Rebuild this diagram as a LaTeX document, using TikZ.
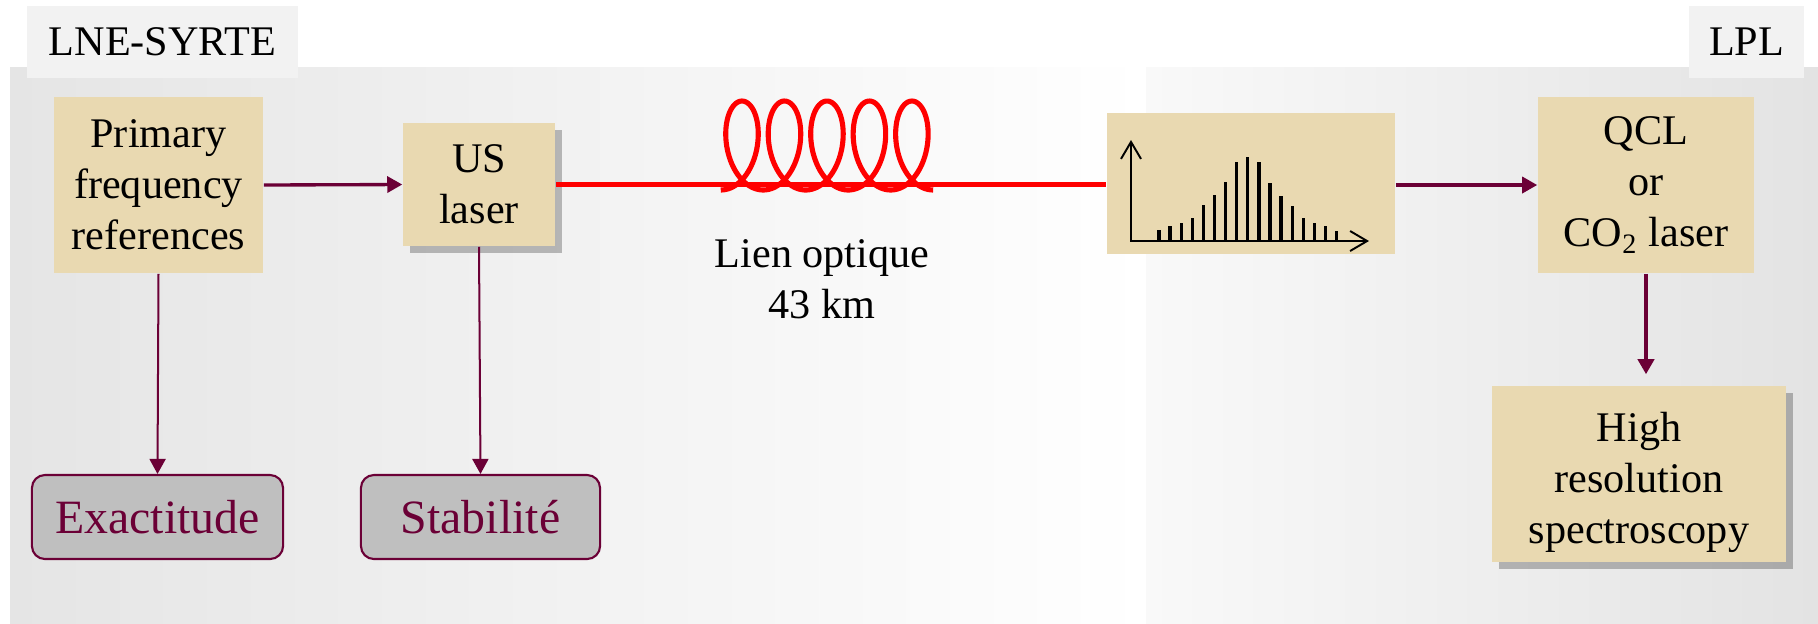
\documentclass[tikz,border=0pt]{standalone}
\usepackage{fontspec}
\setmainfont{Liberation Serif}
\usetikzlibrary{arrows.meta,shadows}
\definecolor{wheat}{RGB}{233,217,177}
\definecolor{darkwine}{RGB}{107,0,54}
\definecolor{tagfill}{RGB}{242,242,242}
\definecolor{boxgray}{RGB}{191,191,191}
\definecolor{bgleft}{RGB}{229,229,229}
\definecolor{bgmid}{RGB}{249,249,249}
\definecolor{bgright}{RGB}{227,227,227}
\tikzset{
  linkarrow/.style={-{Triangle[length=1.5mm, width=1.6mm]}, line width=0.95pt, draw=darkwine},
  fiber/.style={draw=red, line width=1.35pt},
  tagbox/.style={fill=tagfill, inner sep=0pt, font=\fontsize{12}{14.5}\selectfont},
  labbox/.style={fill=wheat, inner sep=0pt, align=center, font=\fontsize{12}{14.5}\selectfont},
  shadowed/.style={drop shadow={shadow xshift=0.7mm, shadow yshift=-0.7mm, fill=black, opacity=0.25}},
  outbox/.style={draw=darkwine, line width=0.6pt, fill=boxgray, rounded corners=1.3mm, inner sep=0pt, text=darkwine, font=\fontsize{13.6}{16}\selectfont, minimum height=0.84cm}
}
\begin{document}
\begin{tikzpicture}[x=0.01cm, y=-0.01cm]
  \useasboundingbox (0,0) rectangle (1818,623);
  % the two labs
  \shade[left color=bgleft, right color=white] (10,67) rectangle (1146,623);
  \shade[left color=bgmid, right color=bgright] (1146,67) rectangle (1818,623);
  \node[tagbox, minimum width=2.71cm, minimum height=0.72cm] (lne) at (162.5,42) {LNE-SYRTE};
  \node[tagbox, minimum width=1.15cm, minimum height=0.72cm] (lpl) at (1746.5,42) {LPL};

  \node[labbox, minimum width=2.09cm, minimum height=1.76cm] (prim) at (158.5,185) {Primary\\frequency\\references};
  \node[labbox, shadowed, minimum width=1.52cm, minimum height=1.23cm] (us) at (479,184.5) {US\\laser};
  \node[labbox, minimum width=2.88cm, minimum height=1.41cm] (spec) at (1251,183.5) {};
  \node[labbox, minimum width=2.16cm, minimum height=1.76cm] (qcl) at (1646,185) {QCL\\or\\CO\textsubscript{2} laser};
  \node[labbox, shadowed, minimum width=2.94cm, minimum height=1.76cm] (high) at (1639,474) {\rule{0pt}{0.46cm}High\\resolution\\spectroscopy};
  \node[outbox, minimum width=2.51cm] (exact) at (157.5,517) {Exactitude};
  \node[outbox, minimum width=2.39cm] (stab) at (480.5,517) {Stabilité};
  \node[align=center, font=\fontsize{12}{14.5}\selectfont] (lien) at (822,279) {Lien optique\\43 km};

  % fibre link with its spool
  \draw[fiber] (us.east) -- (us.east -| spec.west);
  \draw[fiber, line width=1.45pt] plot[domain=-3.14159:28.2743, samples=400, variable=\t]
    ({742+6.76*\t-26*sin(\t r)}, {145.5-44.5*cos(\t r)});

  % comb spectrum
  \draw[line width=0.55pt, {Straight Barb[length=1.7mm, width=2mm]}-{Straight Barb[length=1.7mm, width=2mm]}]
    (1131,140) -- (1131,241) -- (1369,241);
  \foreach \h [count=\i] in {10.7,15,18,23.3,35.7,45.7,59.3,79.3,83.7,79.3,58.3,45.3,35.3,22.7,18,14.7,9.7}
    \draw[line width=0.95pt] ({1159+11.1*(\i-1)},241) -- ++(0,-\h);

  \draw[linkarrow] (prim.east) -- (us.west);
  \draw[linkarrow] (qcl.west -| spec.east) -- (qcl.west);
  \draw[linkarrow, line width=0.57pt] (prim.south) -- (exact.north);
  \draw[linkarrow, line width=0.57pt] (us.south) -- (stab.north);
  \draw[linkarrow, line width=1.15pt, shorten >=0.11cm] (qcl.south) -- (qcl.south |- high.north);
\end{tikzpicture}
\end{document}
